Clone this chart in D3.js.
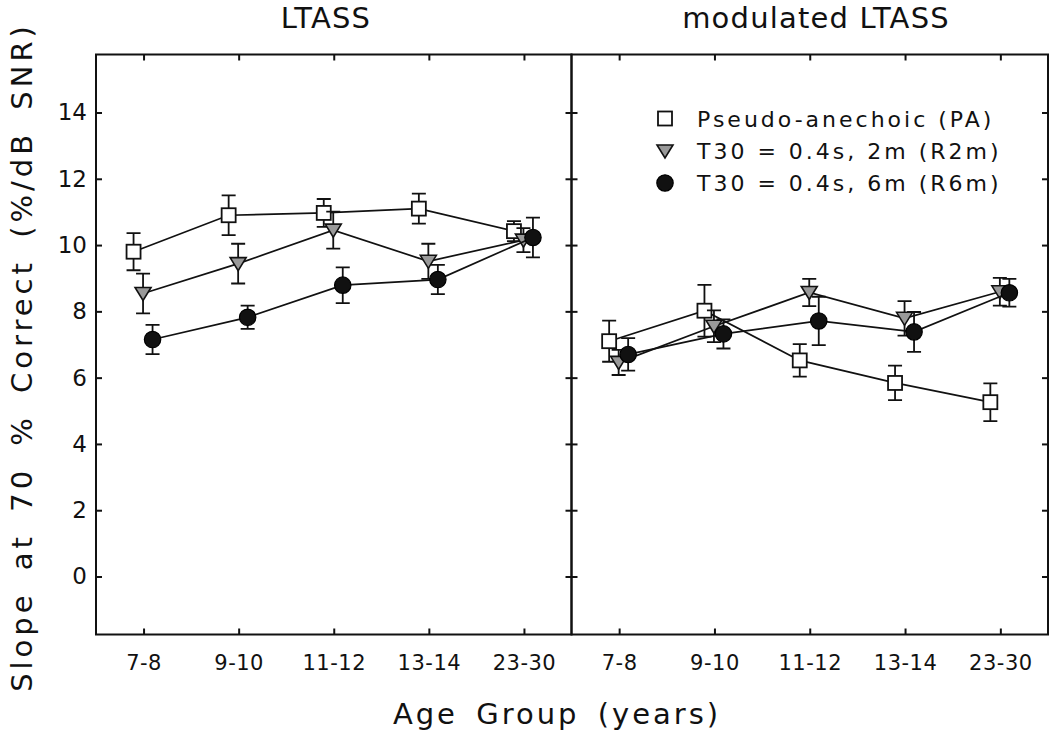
<!DOCTYPE html>
<html><head><meta charset="utf-8">
<script src="https://cdn.jsdelivr.net/npm/d3@7"></script>
<style>body{margin:0;background:#fff}svg{display:block}</style>
</head><body><svg id="c" width="1050" height="736"></svg>
<script>
// ---------- data ----------
const categories = ["7-8", "9-10", "11-12", "13-14", "23-30"];
const panelTitles = ["LTASS", "modulated LTASS"];
const seriesKeys = ["PA", "R2m", "R6m"];
const legendLabels = ["Pseudo-anechoic (PA)", "T30 = 0.4s, 2m (R2m)", "T30 = 0.4s, 6m (R6m)"];
const yTickValues = [0, 2, 4, 6, 8, 10, 12, 14];

// LTASS panel
const ltassPA      = [9.80, 10.90, 10.97, 11.10, 10.42];
const ltassPAErr   = [0.56, 0.60, 0.42, 0.45, 0.30];
const ltassR2m     = [8.54, 9.44, 10.45, 9.51, 10.15];
const ltassR2mErr  = [0.60, 0.60, 0.56, 0.53, 0.36];
const ltassR6m     = [7.15, 7.82, 8.79, 8.96, 10.23];
const ltassR6mErr  = [0.44, 0.35, 0.54, 0.44, 0.60];
// modulated LTASS panel
const modPA        = [7.10, 8.02, 6.52, 5.84, 5.26];
const modPAErr     = [0.62, 0.78, 0.49, 0.52, 0.57];
const modR2m       = [6.46, 7.55, 8.57, 7.79, 8.59];
const modR2mErr    = [0.38, 0.48, 0.41, 0.52, 0.42];
const modR6m       = [6.70, 7.32, 7.71, 7.38, 8.56];
const modR6mErr    = [0.49, 0.44, 0.73, 0.60, 0.42];

const panelData = [
  { PA: [ltassPA, ltassPAErr], R2m: [ltassR2m, ltassR2mErr], R6m: [ltassR6m, ltassR6mErr] },
  { PA: [modPA, modPAErr], R2m: [modR2m, modR2mErr], R6m: [modR6m, modR6mErr] }
];

// ---------- layout ----------
const svg = d3.select("#c");
const FONT = "'DejaVu Sans', sans-serif";
const INK = "#111";
const plotTop = 54.5, plotBottom = 634.5;
const panelX = [[96, 571.5], [571.5, 1048]];
const titleX = [326, 816];

const y = d3.scaleLinear().domain([-1.75, 15.75]).range([plotBottom, plotTop]);
const dodge = d3.scalePoint().domain(seriesKeys).range([-10, 9]);

const styles = {
  PA:  { fill: "#fff", shape: "square" },
  R2m: { fill: "#999", shape: "triangle" },
  R6m: { fill: "#111", shape: "circle" }
};

function marker(g, key, cx, cy) {
  const s = styles[key];
  if (s.shape === "square") {
    g.append("rect").attr("x", cx - 7).attr("y", cy - 7).attr("width", 14).attr("height", 14)
      .attr("fill", s.fill).attr("stroke", INK).attr("stroke-width", 1.8);
  } else if (s.shape === "triangle") {
    g.append("path").attr("d", `M${cx - 8},${cy - 6}L${cx + 8},${cy - 6}L${cx},${cy + 7}Z`)
      .attr("fill", s.fill).attr("stroke", INK).attr("stroke-width", 1.6).attr("stroke-linejoin", "miter");
  } else {
    g.append("circle").attr("cx", cx).attr("cy", cy).attr("r", 8.2)
      .attr("fill", s.fill).attr("stroke", "#000").attr("stroke-width", 1.2);
  }
}

panelData.forEach((pd, pi) => {
  const [x0, x1] = panelX[pi];
  const x = d3.scalePoint().domain(categories).range([x0, x1]).padding(0.5);
  const g = svg.append("g");

  const axL = g.append("g").attr("transform", `translate(${x0},0)`)
    .call(d3.axisLeft(y).tickValues(yTickValues).tickSize(-6).tickPadding(9)
      .tickFormat(pi === 0 ? d3.format("d") : () => ""));
  const axR = g.append("g").attr("transform", `translate(${x1},0)`)
    .call(d3.axisRight(y).tickValues(yTickValues).tickSize(-6).tickFormat(() => ""));
  const axT = g.append("g").attr("transform", `translate(0,${plotTop})`)
    .call(d3.axisTop(x).tickSize(-6).tickFormat(() => ""));
  const axB = g.append("g").attr("transform", `translate(0,${plotBottom})`)
    .call(d3.axisBottom(x).tickSize(-6).tickPadding(18));
  [axL, axR, axT, axB].forEach(a => {
    a.select(".domain").remove();
    a.selectAll(".tick line").attr("stroke", INK).attr("stroke-width", 2);
    a.selectAll("text").attr("fill", INK).attr("font-family", FONT);
  });
  axL.selectAll("text").attr("font-size", 23).attr("x", -9);
  axB.selectAll("text").attr("font-size", 21).attr("letter-spacing", 0.5).attr("dy", "0.85em");

  g.append("rect").attr("x", x0).attr("y", plotTop).attr("width", x1 - x0).attr("height", plotBottom - plotTop)
    .attr("fill", "none").attr("stroke", INK).attr("stroke-width", 2);

  svg.append("text").attr("x", titleX[pi]).attr("y", 28).attr("text-anchor", "middle")
    .attr("font-family", FONT).attr("font-size", 29).attr("letter-spacing", 1.2).attr("fill", INK)
    .text(panelTitles[pi]);

  const line = d3.line().x(d => d.x).y(d => d.y);
  seriesKeys.forEach(key => {
    const [vals, errs] = pd[key];
    const pts = vals.map((v, i) => ({ x: x(categories[i]) + dodge(key), y: y(v), v, e: errs[i] }));
    const sg = g.append("g");
    sg.append("path").attr("d", line(pts)).attr("fill", "none").attr("stroke", INK).attr("stroke-width", 1.7);
    pts.forEach(p => {
      const yt = y(p.v + p.e), yb = y(p.v - p.e);
      sg.append("path").attr("d", `M${p.x},${yt}V${yb}M${p.x - 7},${yt}H${p.x + 7}M${p.x - 7},${yb}H${p.x + 7}`)
        .attr("stroke", INK).attr("stroke-width", 1.8).attr("fill", "none");
    });
    pts.forEach(p => marker(sg, key, p.x, p.y));
  });
});

// legend
const legendRows = [118.5, 151, 183];
seriesKeys.forEach((key, i) => {
  const lg = svg.append("g");
  marker(lg, key, 665, legendRows[i]);
  lg.append("text").attr("x", 697).attr("y", legendRows[i] + 8)
    .attr("font-family", FONT).attr("font-size", 22).attr("letter-spacing", 3).attr("fill", INK)
    .text(legendLabels[i]);
});

// axis titles
svg.append("text").attr("x", 557).attr("y", 724).attr("text-anchor", "middle")
  .attr("font-family", FONT).attr("font-size", 29).attr("letter-spacing", 3).attr("word-spacing", 6)
  .attr("fill", INK).text("Age Group (years)");
svg.append("text").attr("transform", "translate(32,357) rotate(-90)").attr("text-anchor", "middle")
  .attr("font-family", FONT).attr("font-size", 29).attr("letter-spacing", 4).attr("word-spacing", 8)
  .attr("fill", INK).text("Slope at 70 % Correct (%/dB SNR)");
</script></body></html>
